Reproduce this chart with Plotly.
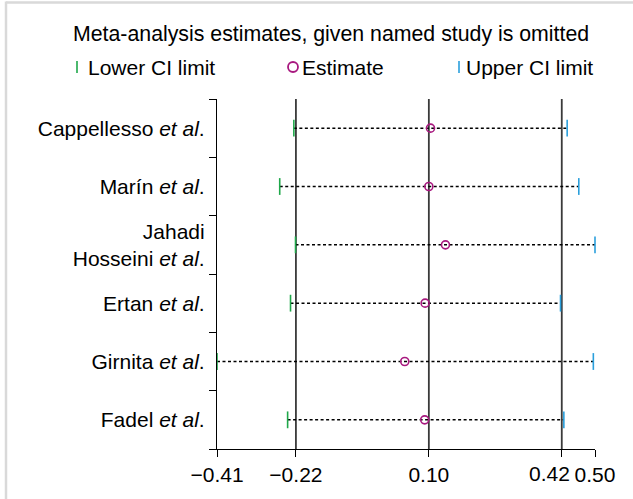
import plotly.graph_objects as go

# ---- data ----
studies = ["Cappellesso <i>et al</i>.", "Marín <i>et al</i>.", "Jahadi<br>Hosseini <i>et al</i>.",
           "Ertan <i>et al</i>.", "Girnita <i>et al</i>.", "Fadel <i>et al</i>."]
estimate = [0.104, 0.100, 0.140, 0.091, 0.042, 0.090]
lower_ci = [-0.225, -0.259, -0.221, -0.233, -0.410, -0.240]
upper_ci = [0.433, 0.461, 0.500, 0.417, 0.496, 0.425]
overall = [-0.22, 0.10, 0.42]          # overall lower CI, estimate, upper CI
x_ticks = [-0.41, -0.22, 0.10, 0.42, 0.50]

GREEN = "#1fa84a"
BLUE = "#2a9fdc"
MAGENTA = "#a8187f"
FONT = "Liberation Sans, Arial, sans-serif"
FS = 21

W, H = 633, 499
ML, MR, MT, MB = 217, 38, 99, 50
PW, PH = W - ML - MR, H - MT - MB


def px(xp):
    return (xp - ML) / PW


def py(yp):
    return (H - MB - yp) / PH


def fmt(v):
    return f"{v:.2f}".replace("-", "\u2212")


n = len(studies)
ypos = list(range(n))

fig = go.Figure()

# dotted CI lines
lx, ly = [], []
for i in range(n):
    lx += [lower_ci[i], upper_ci[i], None]
    ly += [ypos[i], ypos[i], None]
fig.add_trace(go.Scatter(x=lx, y=ly, mode="lines", line=dict(color="black", width=1.5, dash="3px,2.5px"),
                         hoverinfo="skip", showlegend=False, cliponaxis=False))

fig.add_trace(go.Scatter(x=lower_ci, y=ypos, mode="markers", name="Lower CI limit",
                         marker=dict(symbol="line-ns", size=12, line=dict(width=1.6, color=GREEN)),
                         cliponaxis=False, showlegend=False))
fig.add_trace(go.Scatter(x=upper_ci, y=ypos, mode="markers", name="Upper CI limit",
                         marker=dict(symbol="line-ns", size=12, line=dict(width=1.6, color=BLUE)),
                         cliponaxis=False, showlegend=False))
fig.add_trace(go.Scatter(x=estimate, y=ypos, mode="markers", name="Estimate",
                         marker=dict(symbol="circle-open", size=8, line=dict(width=1.6, color=MAGENTA),
                                     color=MAGENTA),
                         cliponaxis=False, showlegend=False))

shapes = []
for v in overall:
    shapes.append(dict(type="line", xref="x", yref="paper", x0=v, x1=v, y0=0, y1=1,
                       line=dict(color="#3a3a3a", width=1.8), layer="below"))

# frame (light grey top and left edges)
shapes.append(dict(type="line", xref="paper", yref="paper", x0=px(6), x1=px(W), y0=py(2.5), y1=py(2.5),
                   line=dict(color="#d9d9d9", width=2.5)))
shapes.append(dict(type="line", xref="paper", yref="paper", x0=px(6), x1=px(6), y0=py(1.5), y1=py(H),
                   line=dict(color="#d9d9d9", width=2.5)))

# legend symbols
shapes.append(dict(type="line", xref="paper", yref="paper", x0=px(77), x1=px(77), y0=py(61), y1=py(73),
                   line=dict(color=GREEN, width=1.6)))
shapes.append(dict(type="circle", xref="paper", yref="paper", x0=px(288), x1=px(298), y0=py(62), y1=py(72),
                   line=dict(color=MAGENTA, width=1.8)))
shapes.append(dict(type="line", xref="paper", yref="paper", x0=px(459), x1=px(459), y0=py(61), y1=py(73),
                   line=dict(color=BLUE, width=1.6)))

annotations = [
    dict(text="Meta-analysis estimates, given named study is omitted", xref="paper", yref="paper",
         x=px(331), y=py(34), xanchor="center", yanchor="middle", showarrow=False,
         font=dict(family=FONT, size=21.3, color="black")),
    dict(text="Lower CI limit", xref="paper", yref="paper", x=px(86), y=py(67), xanchor="left",
         yanchor="middle", showarrow=False, font=dict(family=FONT, size=FS, color="black")),
    dict(text="Estimate", xref="paper", yref="paper", x=px(300), y=py(67), xanchor="left",
         yanchor="middle", showarrow=False, font=dict(family=FONT, size=FS, color="black")),
    dict(text="Upper CI limit", xref="paper", yref="paper", x=px(464), y=py(67), xanchor="left",
         yanchor="middle", showarrow=False, font=dict(family=FONT, size=FS, color="black")),
]

# the 0.42 tick label sits shifted left of its tick in the reference
shifted_tick = 0.42
annotations.append(dict(text=fmt(shifted_tick), xref="x", yref="paper", x=shifted_tick, xshift=-12,
                        y=py(473), xanchor="center", yanchor="middle", showarrow=False,
                        font=dict(family=FONT, size=FS, color="black")))

fig.update_layout(
    width=W, height=H,
    margin=dict(l=ML, r=MR, t=MT, b=MB, pad=0, autoexpand=False),
    paper_bgcolor="white", plot_bgcolor="white",
    font=dict(family=FONT, size=FS, color="black"),
    shapes=shapes, annotations=annotations,
    showlegend=False,
)
fig.update_xaxes(range=[x_ticks[0], x_ticks[-1]], tickvals=x_ticks,
                 ticktext=["" if v == shifted_tick else fmt(v) for v in x_ticks],
                 tickangle=0, automargin=False,
                 showgrid=False, zeroline=False, showline=True, linecolor="black", linewidth=1.2,
                 ticks="outside", ticklen=7, tickwidth=1.2, tickcolor="black",
                 tickfont=dict(family=FONT, size=FS, color="black"))
fig.update_yaxes(range=[n - 0.5, -0.5], tickvals=ypos, ticktext=studies, automargin=False,
                 showgrid=False, zeroline=False, showline=True, linecolor="black", linewidth=1.2,
                 ticks="outside", ticklen=7, tickcolor="rgba(0,0,0,0)",
                 minor=dict(tickvals=[i - 0.5 for i in range(n + 1)], ticks="outside", ticklen=7,
                            tickwidth=1.2, tickcolor="black", showgrid=False),
                 tickfont=dict(family=FONT, size=FS, color="black"))

fig.write_html("out.html", config={"displayModeBar": False},
               post_script="document.body.style.margin='0';document.body.style.overflow='hidden';")
